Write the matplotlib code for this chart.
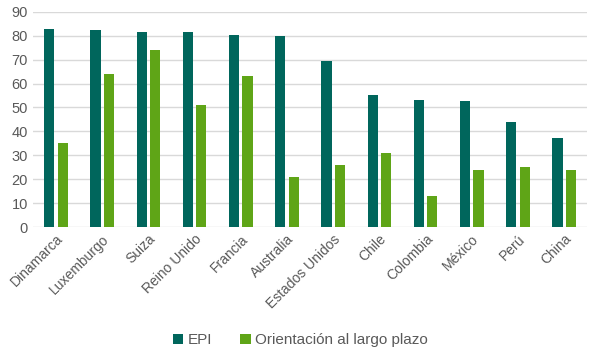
import numpy as np
from matplotlib import pyplot as plt
from matplotlib import rcParams
from matplotlib import font_manager

names = {f.name for f in font_manager.fontManager.ttflist}
if 'Liberation Sans Narrow' in names:
    rcParams['font.family'] = ['Liberation Sans Narrow', 'DejaVu Sans']
else:
    rcParams['font.family'] = ['Liberation Sans', 'DejaVu Sans']

countries = ['Dinamarca', 'Luxemburgo', 'Suiza', 'Reino Unido', 'Francia',
             'Australia', 'Estados Unidos', 'Chile', 'Colombia', 'México',
             'Perú', 'China']
epi = [82.6, 82.3, 81.6, 81.4, 80.2, 79.7, 69.4, 55.2, 53.0, 52.5, 43.9, 37.1]
largo_plazo = [35, 64, 74, 51, 63, 21, 26, 31, 13, 24, 25, 24]

dark = '#00665c'
green = '#5fa517'
text_col = '#595959'

fig = plt.figure(figsize=(5.89, 3.57), dpi=100)
ax = fig.add_axes([0.056, 0.364, 0.941, 0.603])

x = np.arange(len(countries))
w = 0.22
ax.bar(x - w/2 - 0.035, epi, w, color=dark, label='EPI', zorder=3)
ax.bar(x + w/2 + 0.035, largo_plazo, w, color=green,
       label='Orientación al largo plazo', zorder=3)

ax.set_xlim(-0.5, len(countries) - 0.5)
ax.set_ylim(0, 90)
ax.set_yticks(range(0, 91, 10))
ax.yaxis.grid(True, color='#d9d9d9', linewidth=1, zorder=0)
ax.tick_params(axis='both', length=0, colors=text_col, labelsize=10.5)
ax.set_xticks(x)
ax.set_xticklabels(countries, rotation=45, ha='right', rotation_mode='anchor',
                   fontsize=10)
for s in ax.spines.values():
    s.set_visible(False)

fig.legend(loc='center', bbox_to_anchor=(0.51, 0.047), ncol=2, frameon=False,
           fontsize=11, handlelength=0.7, handleheight=0.7, handletextpad=0.3,
           columnspacing=1.8, labelcolor=text_col)

fig.savefig('out.png', dpi=100)
